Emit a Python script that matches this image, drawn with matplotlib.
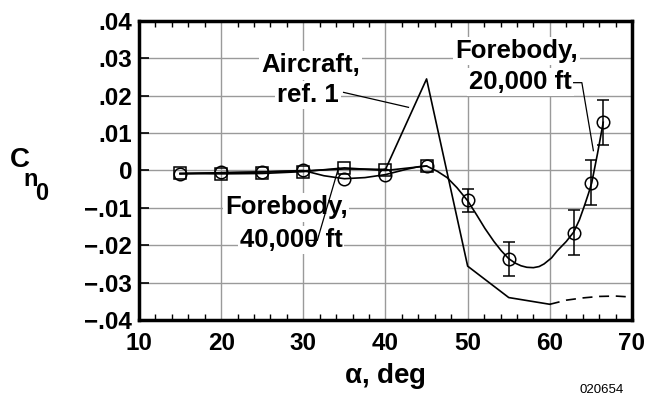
import matplotlib
matplotlib.use("Agg")
import matplotlib.pyplot as plt
from matplotlib.ticker import MultipleLocator

plt.rcParams['font.family'] = ['Liberation Sans', 'DejaVu Sans']
plt.rcParams['font.weight'] = 'bold'

# ---- data ----
alpha_20k = [15, 20, 25, 30, 35, 40, 45, 50, 55, 63, 65, 66.5]
cn_20k = [-0.0009, -0.0004, -0.0003, 0.0002, -0.0022, -0.0011, 0.0011,
          -0.0080, -0.0236, -0.0167, -0.0033, 0.0129]
err_alpha = [50, 55, 63, 65, 66.5]
err_cn = [-0.0080, -0.0236, -0.0167, -0.0033, 0.0129]
err_size = [0.0030, 0.0045, 0.0060, 0.0060, 0.0060]

fit_alpha = [15, 20, 25, 30, 32.5, 35, 37.5, 40, 42.5, 44, 45, 46.3, 47.5,
             48.7, 50, 51.1, 52.1, 53.2, 54.1, 55, 55.8, 56.5, 57.2, 58,
             58.7, 59.3, 60.2, 60.9, 62, 62.9, 63.6, 64.2, 64.7, 65.1, 65.8,
             66.5]
fit_cn = [-0.0009, -0.0006, -0.0004, 0.0000, -0.0014, -0.0022, -0.0019,
          -0.0011, 0.0003, 0.0010, 0.0012, -0.0002, -0.0019, -0.0046,
          -0.0081, -0.0119, -0.0155, -0.0190, -0.0215, -0.0236, -0.0248,
          -0.0255, -0.0259, -0.0260, -0.0257, -0.0250, -0.0234, -0.0215,
          -0.0190, -0.0165, -0.0132, -0.0095, -0.0062, -0.0033, 0.0045,
          0.0129]

alpha_40k = [15, 20, 25, 30, 35, 40, 45]
cn_40k = [-0.0008, -0.0009, -0.0008, -0.0003, 0.0007, 0.0000, 0.0012]

air_alpha = [15, 20, 25, 30, 35, 40, 45, 50, 55, 60]
air_cn = [-0.0008, -0.0006, -0.0004, -0.0001, 0.0004, 0.0003, 0.0245,
          -0.0256, -0.0340, -0.0358]
ext_alpha = [60, 62, 64, 66, 68, 69.5]
ext_cn = [-0.0358, -0.0347, -0.0341, -0.0337, -0.0336, -0.0338]

xticks = [10, 20, 30, 40, 50, 60, 70]
yticks = [-0.04, -0.03, -0.02, -0.01, 0, 0.01, 0.02, 0.03, 0.04]
ytick_labels = ['\u2212.04', '\u2212.03', '\u2212.02', '\u2212.01', '0',
                '.01', '.02', '.03', '.04']

# ---- figure ----
fig = plt.figure(figsize=(6.48, 3.97), dpi=100)
ax = fig.add_axes([0.2145, 0.194, 0.7608, 0.7531])
ax.set_xlim(10, 70)
ax.set_ylim(-0.04, 0.04)

ax.set_xticks(xticks)
ax.set_xticklabels([str(t) for t in xticks])
ax.set_yticks(yticks)
ax.set_yticklabels(ytick_labels)
ax.xaxis.set_minor_locator(MultipleLocator(2))
ax.grid(True, which='major', color='#9a9a9a', linewidth=1.0, zorder=0)
ax.set_axisbelow(True)
ax.tick_params(axis='both', which='major', labelsize=17.5, direction='in',
               length=7, width=1.2, pad=5)
ax.tick_params(axis='x', which='major', length=0, pad=9)
ax.tick_params(axis='x', which='minor', direction='in', length=4, width=1.0,
               top=True, bottom=True)
for lab in ax.get_xticklabels() + ax.get_yticklabels():
    lab.set_fontweight('bold')
for s in ax.spines.values():
    s.set_linewidth(2.5)

lw = 1.2
ax.plot(air_alpha, air_cn, color='black', lw=lw, zorder=3)
ax.plot(ext_alpha, ext_cn, color='black', lw=lw, ls=(0, (6, 4)), zorder=3)
ax.plot(alpha_40k, cn_40k, color='black', lw=lw, marker='s', ms=8,
        mfc='none', mec='black', mew=1.1, zorder=4)
ax.plot(fit_alpha, fit_cn, color='black', lw=lw, zorder=4,
        solid_joinstyle='round')
ax.plot(alpha_20k, cn_20k, ls='none', marker='o', ms=9, mfc='none',
        mec='black', mew=1.1, zorder=5)
ax.errorbar(err_alpha, err_cn, yerr=err_size, fmt='none', ecolor='black',
            elinewidth=1.1, capsize=4, capthick=1.1, zorder=5)

# ---- annotations ----
tbox = dict(facecolor='white', edgecolor='none', pad=1.5)
ax.text(30.9, 0.0281, 'Aircraft,', ha='center', va='center', fontsize=18.5,
        fontweight='bold', bbox=tbox, zorder=6)
ax.text(30.6, 0.0203, 'ref. 1', ha='center', va='center', fontsize=18.5,
        fontweight='bold', bbox=tbox, zorder=6)
ax.plot([34.9, 42.8], [0.0209, 0.0169], color='black', lw=0.9, zorder=6)

ax.text(55.9, 0.0320, 'Forebody,', ha='center', va='center', fontsize=18.5,
        fontweight='bold', bbox=tbox, zorder=6)
ax.text(56.4, 0.0236, '20,000 ft', ha='center', va='center', fontsize=18.5,
        fontweight='bold', bbox=tbox, zorder=6)
ax.plot([62.9, 63.9, 65.3], [0.0235, 0.0235, 0.0053], color='black', lw=0.9,
        zorder=6)

ax.text(27.9, -0.0099, 'Forebody,', ha='center', va='center', fontsize=18.5,
        fontweight='bold', bbox=tbox, zorder=6)
ax.text(28.5, -0.0187, '40,000 ft', ha='center', va='center', fontsize=18.5,
        fontweight='bold', bbox=tbox, zorder=6)
ax.plot([30.6, 31.7, 34.3], [-0.0187, -0.0187, 0.0008], color='black',
        lw=0.9, zorder=6)

# axis labels
fig.text(385 / 648, 1 - 376 / 397, r'$\mathregular{\alpha}$, deg',
         ha='center', va='center', fontsize=20, fontweight='bold')
fig.text(20 / 648, 1 - 160 / 397, 'C', ha='center', va='center',
         fontsize=20, fontweight='bold')
fig.text(31 / 648, 1 - 180 / 397, 'n', ha='center', va='center',
         fontsize=17, fontweight='bold')
fig.text(42 / 648, 1 - 193 / 397, '0', ha='center', va='center',
         fontsize=17, fontweight='bold')
fig.text(580 / 648, 1 - 384 / 397, '020654', ha='left', va='top',
         fontsize=9.5, fontweight='normal')

fig.savefig('out.png', dpi=100)
